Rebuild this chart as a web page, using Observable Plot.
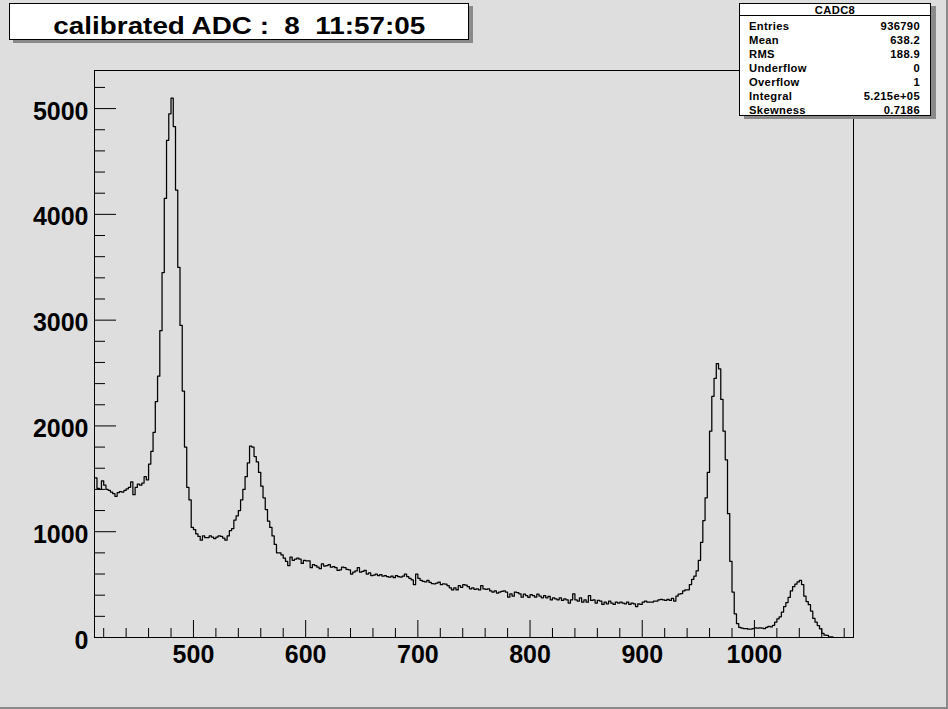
<!DOCTYPE html>
<html>
<head>
<meta charset="utf-8">
<script src="https://cdn.jsdelivr.net/npm/d3@7"></script>
<script src="https://cdn.jsdelivr.net/npm/@observablehq/plot@0.6"></script>
<style>
  html, body { margin: 0; padding: 0; background: #dedede; }
  #canvas { position: relative; width: 948px; height: 709px; background: #dedede; overflow: hidden;
            font-family: "Liberation Sans", Arial, Helvetica, sans-serif; }
  #canvas svg { position: absolute; left: 0; top: 0; }
  .edge-r { position: absolute; left: 946px; top: 0; width: 2px; height: 709px; background: #8a8a8a; }
  .edge-b { position: absolute; left: 0; top: 707px; width: 948px; height: 2px; background: #8a8a8a; }
  #titlebox { position: absolute; left: 9px; top: 3px; width: 458px; height: 35px; background: #fff;
              border: 1px solid #000; box-shadow: 4px 3px 0 #8a8a8a; }
  #titletext { position: absolute; left: 9px; width: 460px; top: 14px; text-align: center;
               font-size: 24px; line-height: 24px; font-weight: bold; white-space: pre; color: #000; }
  #titletext span { display: inline-block; transform: scaleX(1.16); transform-origin: 50% 50%; }
  #stats { position: absolute; left: 739px; top: 3px; width: 190px; height: 111px; background: #fff;
           border: 1px solid #000; box-shadow: 5px 3px 0 #8a8a8a; }
  #stats .hdr { position: absolute; left: 0; top: 0; width: 190px; height: 11px; border-bottom: 1px solid #000;
                text-align: center; font-weight: bold; font-size: 11.2px; line-height: 12px; letter-spacing: 0.35px; }
  #stats .row { position: absolute; left: 9px; width: 171px; font-weight: bold; font-size: 11.2px;
                line-height: 12px; letter-spacing: 0.35px; }
  #stats .row .v { position: absolute; right: 0; top: 0; }
</style>
</head>
<body>
<div id="canvas">
  <div id="titlebox"></div>
  <div id="titletext"><span>calibrated ADC :  8  11:57:05</span></div>
  <div id="stats"></div>
  <div class="edge-r"></div>
  <div class="edge-b"></div>
</div>
<script>
// ---- data ----
const title = "calibrated ADC :  8  11:57:05";
const histName = "CADC8";
const statLabels = ["Entries", "Mean", "RMS", "Underflow", "Overflow", "Integral", "Skewness"];
const statValues = ["936790", "638.2", "188.9", "0", "1", "5.215e+05", "0.7186"];

const xDomain = [411.8, 1088.3];
const yDomain = [0, 5360];
const xMajorTicks = [500, 600, 700, 800, 900, 1000];
const xMinorTicks = [420, 440, 460, 480, 520, 540, 560, 580, 620, 640, 660, 680, 720, 740, 760, 780,
                     820, 840, 860, 880, 920, 940, 960, 980, 1020, 1040, 1060, 1080];
const yMajorTicks = [0, 1000, 2000, 3000, 4000, 5000];
const yMinorTicks = [200, 400, 600, 800, 1200, 1400, 1600, 1800, 2200, 2400, 2600, 2800,
                     3200, 3400, 3600, 3800, 4200, 4400, 4600, 4800, 5200];

const binStart = 412;
const binWidth = 2;
const counts = [
  // 412 - 460
  1510,1410,1400,1480,1440,1400,1390,1375,1360,1335,
  1370,1380,1375,1390,1405,1420,1470,1350,1420,1450,
  1440,1460,1520,1490,
  // first peak
  1640,1760,1940,2230,2470,2900,3450,4150,4700,4950,
  5100,4830,4230,3500,2950,2330,1800,1420,1300,1040,
  // 500 - 604
  1020,980,955,920,960,945,945,960,950,935,
  950,960,955,940,920,960,1010,1030,1110,1150,
  1200,1300,1400,1520,1650,1810,1800,1710,1660,1560,
  1430,1320,1210,1100,1040,960,880,800,800,780,
  750,720,680,760,730,740,750,740,700,730,
  725,725,
  // 604 - 774
  660,690,680,665,650,697,675,680,690,665,
  670,660,634,640,665,660,645,640,600,618,
  630,660,618,625,634,600,610,586,590,600,
  586,595,580,585,575,570,580,565,586,575,
  571,580,600,575,560,545,500,600,560,539,
  530,525,540,520,510,508,515,523,500,508,
  505,490,470,450,470,450,490,475,500,495,
  480,460,470,455,460,450,490,460,455,460,
  440,430,440,420,430,
  // 774 - 916
  436,440,429,381,413,390,429,425,413,381,
  410,397,380,405,397,381,410,390,375,397,
  375,388,356,375,366,356,375,350,366,356,
  325,356,413,356,344,375,334,356,334,397,
  350,356,325,350,344,312,334,318,344,325,
  312,334,325,334,325,318,334,312,325,318,
  293,318,312,334,344,334,334,334,344,344,
  356,
  // 916 - 1088
  360,355,350,360,350,370,345,390,411,415,
  440,451,451,500,550,580,630,730,900,1106,
  1320,1560,1950,2280,2450,2590,2540,2250,1950,1680,
  1170,720,430,224,130,95,88,85,85,78,
  80,85,90,88,90,88,85,95,104,100,
  115,145,177,195,240,293,330,380,440,480,
  505,525,539,500,390,340,310,250,180,145,
  113,82,40,22,19,6,5,0,0,0,
  0,0,0,0,0,0
];

// ---- build ----
const steps = counts.map((c, i) => ({x: binStart + i * binWidth, y: c}));
steps.push({x: binStart + counts.length * binWidth, y: counts[counts.length - 1]});

const frameW = 948 - 94 - 95;
const frameH = 709 - 70 - 72;
const plain = d => String(d);

const svg = Plot.plot({
  width: 948,
  height: 709,
  marginLeft: 94,
  marginRight: 95,
  marginTop: 70,
  marginBottom: 72,
  style: {background: "transparent", fontFamily: "'Liberation Sans', Arial, Helvetica, sans-serif", color: "#000"},
  x: {domain: xDomain, label: null},
  y: {domain: yDomain, label: null},
  marks: [
    Plot.line(steps, {x: "x", y: "y", curve: "step-after", stroke: "#000", strokeWidth: 1.25, clip: true}),
    Plot.tickX(xMinorTicks, {x: d => d, insetTop: frameH - 9, stroke: "#000"}),
    Plot.tickX(xMajorTicks, {x: d => d, insetTop: frameH - 17, stroke: "#000"}),
    Plot.tickY(yMinorTicks, {y: d => d, insetRight: frameW - 11, stroke: "#000"}),
    Plot.tickY(yMajorTicks, {y: d => d, insetRight: frameW - 22, stroke: "#000"}),
    Plot.axisX(xMajorTicks, {tickSize: 0, tickPadding: 8, fontSize: 25, fontWeight: "bold", tickFormat: plain}),
    Plot.axisY(yMajorTicks, {tickSize: 0, tickPadding: 6, fontSize: 25, fontWeight: "bold", dy: 3, tickFormat: plain}),
    Plot.frame({stroke: "#000", strokeWidth: 1})
  ]
});
const canvas = document.getElementById("canvas");
canvas.insertBefore(svg, canvas.firstChild);

document.querySelector("#titletext span").textContent = title;

const stats = document.getElementById("stats");
const hdr = document.createElement("div");
hdr.className = "hdr";
hdr.textContent = histName;
stats.appendChild(hdr);
statLabels.forEach((lab, i) => {
  const row = document.createElement("div");
  row.className = "row";
  row.style.top = (16 + i * 14.07) + "px";
  const l = document.createElement("span");
  l.textContent = lab;
  const v = document.createElement("span");
  v.className = "v";
  v.textContent = statValues[i];
  row.appendChild(l);
  row.appendChild(v);
  stats.appendChild(row);
});
</script>
</body>
</html>
